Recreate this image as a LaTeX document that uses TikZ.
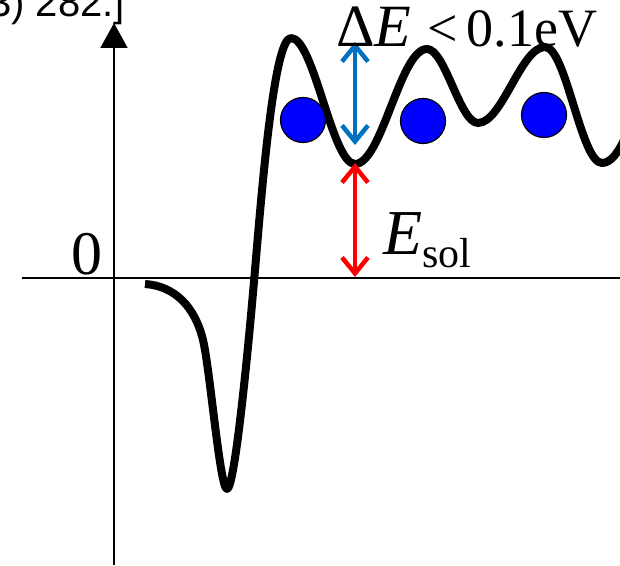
\documentclass[tikz,border=0pt]{standalone}
\usepackage{fontspec}
\usepackage{xcolor}
\usepackage{tikz}
\usetikzlibrary{arrows.meta}
\setmainfont{Liberation Serif}
\newfontfamily\refsans{Liberation Sans}
\definecolor{WellBlack}{HTML}{000000}
\definecolor{AtomBlue}{HTML}{0000FF}
\definecolor{GapBlue}{HTML}{0070C0}
\definecolor{SolRed}{HTML}{FF0000}

\begin{document}
\begin{tikzpicture}[x=1pt,y=1pt,
  axisline/.style={line width=2pt,black},
  potential/.style={line width=8pt,WellBlack,line join=round},
  atom/.style={circle,draw=black,line width=1.2pt,fill=AtomBlue,minimum size=45pt,inner sep=0pt},
  gaparrow/.style={line width=4.5pt,{Straight Barb[length=16pt,width=26pt]}-{Straight Barb[length=16pt,width=26pt]}},
  bigtext/.style={inner sep=0pt,font=\fontsize{62}{62}\selectfont}]
\useasboundingbox (0,0) rectangle (620,565);
\clip (0,0) rectangle (620,565);
% axes
\coordinate (yfoot) at (114,0);
\coordinate (ytip) at (114,542);
\coordinate (xleft) at (22,287);
\coordinate (xright) at (620,287);
\draw[axisline] (xleft) -- (xright);
\draw[axisline,-{Triangle[length=25pt,width=27pt]}] (yfoot) -- (ytip);
\node[bigtext,anchor=base east] (zero) at (103,290) {0};
% reference, cut at the left edge
\node[anchor=base east,inner sep=0pt,font=\refsans\fontsize{40}{40}\selectfont] (ref) at (125,548) {3) 282.]};
% potential curve
\draw[potential] (145,281)
  .. controls (175,279) and (195,258) .. (203,225)
  .. controls (210,196) and (220,76) .. (227,76)
  .. controls (234,76) and (246,190) .. (255,295)
  .. controls (262,377) and (274,527) .. (291,527)
  .. controls (314,527) and (332,401) .. (355,401)
  .. controls (382,401) and (400,516) .. (427,516)
  .. controls (445,516) and (460,442) .. (478,442)
  .. controls (502,442) and (521,518) .. (545,518)
  .. controls (566,518) and (581,402) .. (602,402)
  .. controls (620,402) and (632,445) .. (650,490);
% atoms
\node[atom] (atom1) at (303,445) {};
\node[atom] (atom2) at (423,444) {};
\node[atom] (atom3) at (544,450) {};
% barrier and solution energy
\coordinate (gaptop) at (355,523);
\coordinate (gapbot) at (355,420);
\coordinate (soltop) at (355,402);
\coordinate (solbot) at (355,288);
\draw[gaparrow,GapBlue] (gapbot) -- (gaptop);
\draw[gaparrow,SolRed] (soltop) -- (solbot);
\node[anchor=base west,inner sep=0pt] (gaplabel) at (336,518)
  {{\fontsize{60}{60}\selectfont Δ\textit{E}}\hspace{16pt}{\fontsize{54}{54}\selectfont<\hspace{9pt}0.1eV}};
\node[anchor=base west,inner sep=0pt] (sollabel) at (383,310)
  {{\fontsize{64}{64}\selectfont\textit{E}}\raisebox{-13pt}{\fontsize{42}{42}\selectfont sol}};
\end{tikzpicture}
\end{document}
